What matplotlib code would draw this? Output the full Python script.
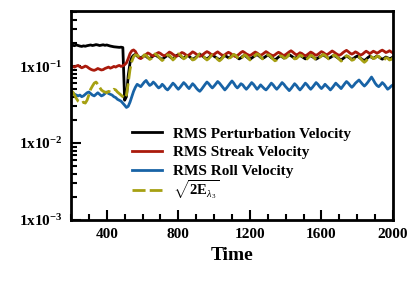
import numpy as np
import matplotlib
matplotlib.use("Agg")
import matplotlib.pyplot as plt
from matplotlib.ticker import MultipleLocator, LogLocator, FixedLocator, NullFormatter

plt.rcParams['font.family'] = ['Liberation Serif', 'DejaVu Serif']
plt.rcParams['mathtext.fontset'] = 'custom'
plt.rcParams['mathtext.rm'] = 'Liberation Serif'
plt.rcParams['mathtext.it'] = 'Liberation Serif:italic'
plt.rcParams['mathtext.bf'] = 'Liberation Serif:bold'

time = np.arange(200, 2001, 10)

perturb = [0.183, 0.186, 0.184, 0.188, 0.185, 0.182, 0.18, 0.183, 0.181, 0.184,
           0.186, 0.188, 0.185, 0.187, 0.19, 0.188, 0.185, 0.187, 0.189, 0.186,
           0.188, 0.185, 0.182, 0.18, 0.178, 0.177, 0.176, 0.175, 0.176, 0.174,
           0.036, 0.04, 0.075, 0.11, 0.13, 0.138, 0.142, 0.135, 0.13, 0.128,
           0.132, 0.138, 0.134, 0.128, 0.125, 0.13, 0.136, 0.14, 0.135, 0.13,
           0.126, 0.122, 0.128, 0.133, 0.138, 0.134, 0.128, 0.124, 0.13, 0.137,
           0.141, 0.136, 0.13, 0.127, 0.132, 0.138, 0.134, 0.128, 0.122, 0.126,
           0.131, 0.137, 0.142, 0.138, 0.132, 0.127, 0.124, 0.129, 0.135, 0.139,
           0.134, 0.129, 0.125, 0.121, 0.126, 0.132, 0.137, 0.133, 0.128, 0.131,
           0.136, 0.14, 0.135, 0.129, 0.124, 0.128, 0.134, 0.138, 0.133, 0.127,
           0.123, 0.127, 0.132, 0.137, 0.141, 0.136, 0.13, 0.126, 0.129, 0.134,
           0.139, 0.135, 0.129, 0.125, 0.121, 0.125, 0.131, 0.136, 0.132, 0.127,
           0.13, 0.135, 0.14, 0.136, 0.131, 0.126, 0.129, 0.134, 0.138, 0.133,
           0.128, 0.124, 0.128, 0.133, 0.137, 0.132, 0.127, 0.123, 0.127, 0.132,
           0.136, 0.14, 0.135, 0.13, 0.126, 0.129, 0.134, 0.138, 0.133, 0.128,
           0.124, 0.12, 0.125, 0.13, 0.135, 0.131, 0.126, 0.122, 0.126, 0.131,
           0.135, 0.13, 0.125, 0.121, 0.118, 0.123, 0.129, 0.134, 0.13, 0.126,
           0.13, 0.135, 0.132, 0.127, 0.123, 0.126, 0.131, 0.128, 0.124, 0.127,
           0.131]

streak = [0.1, 0.099, 0.097, 0.1, 0.102, 0.098, 0.095, 0.097, 0.1, 0.098,
          0.094, 0.091, 0.089, 0.088, 0.09, 0.093, 0.091, 0.089, 0.09, 0.093,
          0.095, 0.097, 0.094, 0.096, 0.099, 0.097, 0.1, 0.102, 0.099, 0.101,
          0.104, 0.11, 0.125, 0.145, 0.158, 0.162, 0.155, 0.14, 0.128, 0.125,
          0.13, 0.136, 0.142, 0.148, 0.144, 0.138, 0.135, 0.14, 0.146, 0.15,
          0.146, 0.14, 0.136, 0.139, 0.145, 0.152, 0.148, 0.142, 0.137, 0.134,
          0.138, 0.144, 0.15, 0.147, 0.141, 0.136, 0.14, 0.146, 0.153, 0.149,
          0.143, 0.138, 0.134, 0.137, 0.143, 0.149, 0.154, 0.15, 0.144, 0.139,
          0.142, 0.148, 0.153, 0.147, 0.141, 0.137, 0.14, 0.146, 0.151, 0.147,
          0.141, 0.136, 0.133, 0.137, 0.143, 0.15, 0.155, 0.15, 0.144, 0.14,
          0.137, 0.141, 0.147, 0.152, 0.148, 0.142, 0.138, 0.142, 0.148, 0.154,
          0.149, 0.143, 0.139, 0.136, 0.14, 0.146, 0.151, 0.147, 0.141, 0.137,
          0.141, 0.147, 0.153, 0.158, 0.152, 0.145, 0.14, 0.143, 0.149, 0.146,
          0.14, 0.136, 0.14, 0.146, 0.152, 0.148, 0.142, 0.138, 0.142, 0.148,
          0.154, 0.15, 0.144, 0.14, 0.145, 0.151, 0.157, 0.152, 0.146, 0.141,
          0.138, 0.142, 0.149, 0.155, 0.16, 0.154, 0.147, 0.143, 0.147, 0.153,
          0.149, 0.143, 0.139, 0.143, 0.15, 0.156, 0.151, 0.145, 0.15, 0.156,
          0.152, 0.147, 0.151, 0.157, 0.161, 0.156, 0.15, 0.153, 0.158, 0.153,
          0.148]

roll = [0.046, 0.045, 0.043, 0.042, 0.041, 0.042, 0.04, 0.041, 0.043, 0.045,
        0.046, 0.044, 0.042, 0.041, 0.043, 0.045, 0.043, 0.041, 0.042, 0.044,
        0.046, 0.044, 0.043, 0.042, 0.04, 0.039, 0.037, 0.036, 0.035, 0.033,
        0.031, 0.029, 0.03, 0.034, 0.04, 0.047, 0.053, 0.058, 0.056, 0.054,
        0.058, 0.062, 0.065, 0.06, 0.056, 0.058, 0.062, 0.059, 0.055, 0.052,
        0.054, 0.058, 0.055, 0.051, 0.049, 0.052, 0.056, 0.06, 0.057, 0.053,
        0.05, 0.053, 0.057, 0.061, 0.058, 0.054, 0.051, 0.055, 0.059, 0.056,
        0.052, 0.049, 0.047, 0.05, 0.054, 0.058, 0.062, 0.059, 0.055, 0.052,
        0.055, 0.059, 0.063, 0.06, 0.056, 0.052, 0.049, 0.052, 0.056, 0.06,
        0.064, 0.06, 0.055, 0.052, 0.055, 0.059, 0.057, 0.053, 0.05, 0.053,
        0.057, 0.061, 0.058, 0.054, 0.05, 0.053, 0.057, 0.054, 0.051, 0.049,
        0.052, 0.056, 0.06, 0.057, 0.053, 0.05, 0.053, 0.057, 0.061, 0.058,
        0.054, 0.051, 0.048, 0.051, 0.055, 0.059, 0.056, 0.052, 0.049, 0.052,
        0.056, 0.06, 0.057, 0.053, 0.05, 0.053, 0.057, 0.061, 0.058, 0.054,
        0.051, 0.054, 0.058, 0.055, 0.052, 0.049, 0.052, 0.056, 0.06, 0.057,
        0.054, 0.051, 0.055, 0.059, 0.063, 0.06, 0.056, 0.053, 0.056, 0.06,
        0.063, 0.066, 0.062, 0.058, 0.055, 0.058, 0.062, 0.067, 0.072, 0.066,
        0.06, 0.056, 0.054, 0.057, 0.061, 0.058, 0.054, 0.05, 0.052, 0.055,
        0.057]

energy = [0.047, 0.046, 0.042, 0.038, 0.035, 0.034, 0.033, 0.034, 0.033, 0.036,
          0.042, 0.05, 0.055, 0.06, 0.062, 0.058, 0.053, 0.049, 0.047, 0.046,
          0.045, 0.047, 0.046, 0.048, 0.05, 0.049, 0.046, 0.044, 0.042, 0.04,
          0.038, 0.042, 0.06, 0.09, 0.115, 0.132, 0.14, 0.138, 0.132, 0.126,
          0.128, 0.14, 0.138, 0.13, 0.122, 0.126, 0.134, 0.144, 0.14, 0.132,
          0.124, 0.118, 0.124, 0.132, 0.14, 0.138, 0.13, 0.12, 0.126, 0.136,
          0.144, 0.14, 0.132, 0.124, 0.128, 0.136, 0.138, 0.13, 0.12, 0.122,
          0.128, 0.136, 0.145, 0.142, 0.134, 0.126, 0.12, 0.125, 0.133, 0.14,
          0.137, 0.13, 0.122, 0.117, 0.122, 0.13, 0.138, 0.136, 0.128, 0.128,
          0.134, 0.142, 0.138, 0.13, 0.122, 0.124, 0.132, 0.14, 0.136, 0.128,
          0.12, 0.123, 0.13, 0.138, 0.144, 0.14, 0.132, 0.124, 0.126, 0.132,
          0.14, 0.138, 0.13, 0.123, 0.117, 0.12, 0.128, 0.136, 0.134, 0.127,
          0.127, 0.133, 0.141, 0.139, 0.132, 0.124, 0.125, 0.132, 0.139, 0.136,
          0.129, 0.121, 0.124, 0.131, 0.138, 0.135, 0.128, 0.12, 0.122, 0.13,
          0.135, 0.142, 0.138, 0.131, 0.124, 0.125, 0.132, 0.139, 0.136, 0.129,
          0.122, 0.116, 0.12, 0.128, 0.136, 0.134, 0.127, 0.119, 0.121, 0.129,
          0.135, 0.132, 0.124, 0.117, 0.112, 0.117, 0.126, 0.134, 0.132, 0.125,
          0.127, 0.134, 0.134, 0.127, 0.12, 0.12, 0.128, 0.127, 0.12, 0.122,
          0.128]

labels = ['RMS Perturbation Velocity', 'RMS Streak Velocity', 'RMS Roll Velocity',
          r'$\sqrt{\mathbf{2E}_{\lambda_3}}$']
x_ticks = [400, 800, 1200, 1600, 2000]
y_ticks = [1e-3, 1e-2, 1e-1]
y_ticklabels = [r'$\mathbf{1x10^{-3}}$', r'$\mathbf{1x10^{-2}}$', r'$\mathbf{1x10^{-1}}$']

fig = plt.figure(figsize=(4.15, 2.81), dpi=100)
ax = fig.add_axes([0.171, 0.217, 0.776, 0.744])

lw = 2.0
l1, = ax.plot(time, perturb, color='black', lw=lw)
l2, = ax.plot(time, streak, color='#aa1a0c', lw=lw)
l3, = ax.plot(time, roll, color='#1863a6', lw=lw)
l4, = ax.plot(time, energy, color='#a6a012', lw=lw, dashes=(4.7, 1.5))

ax.set_yscale('log')
ax.set_xlim(200, 2000)
ax.set_ylim(1e-3, 0.52)

ax.xaxis.set_major_locator(FixedLocator(x_ticks))
ax.xaxis.set_minor_locator(MultipleLocator(100))
ax.set_xticklabels([str(v) for v in x_ticks], fontweight='bold', fontsize=11)
ax.yaxis.set_major_locator(FixedLocator(y_ticks))
ax.yaxis.set_minor_locator(LogLocator(base=10, subs=np.arange(2, 10)))
ax.yaxis.set_minor_formatter(NullFormatter())
ax.set_yticklabels(y_ticklabels, fontsize=11)

ax.tick_params(which='both', direction='in', top=False, right=False, width=1.5)
ax.tick_params(which='major', length=7, pad=6)
ax.tick_params(which='minor', length=4)
for s in ax.spines.values():
    s.set_linewidth(2)

ax.set_xlabel('Time', fontsize=14, fontweight='bold', labelpad=4)

common = dict(frameon=False, prop={'weight': 'bold', 'size': 11},
              handlelength=2.0, handletextpad=0.72, labelspacing=0.33, borderaxespad=0)
leg1 = ax.legend([l1, l2, l3], labels[:3], loc='upper left', bbox_to_anchor=(0.17, 0.474), **common)
ax.add_artist(leg1)
leg2 = ax.legend([l4], labels[3:], loc='center left', bbox_to_anchor=(0.17, 0.148), **common)
leg2.get_texts()[0].set_fontsize(10.5)

fig.savefig('out.png', dpi=100)
